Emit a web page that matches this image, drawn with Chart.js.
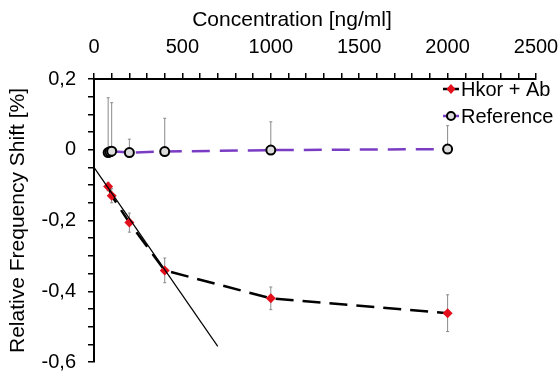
<!DOCTYPE html>
<html>
<head>
<meta charset="utf-8">
<script src="https://cdn.jsdelivr.net/npm/chart.js@4.4.0/dist/chart.umd.min.js"></script>
<style>
  html, body { margin: 0; padding: 0; background: #fff; }
  #wrap { width: 560px; height: 371px; }
</style>
</head>
<body>
<div id="wrap"><canvas id="chart" width="560" height="371"></canvas></div>
<script>
// data
const hkorX = [80, 100, 200, 400, 1000, 2000];
const hkorY = [-0.104, -0.130, -0.206, -0.341, -0.420, -0.462];
const hkorErr = [0.012, 0.02, 0.027, 0.035, 0.032, 0.052];

const refX = [80, 90, 100, 200, 400, 1000, 2000];
const refY = [-0.008, -0.006, -0.004, -0.008, -0.005, -0.001, 0.002];
const refErrUp = [0.155, 0.01, 0.137, 0.038, 0.094, 0.08, 0.066];

// linear fit through the low concentrations
const fitX = [0, 700];
const fitY = [-0.05, -0.556];

const FONT = 'Liberation Sans, Arial, sans-serif';
const PURPLE = '#7b3cc4';
const RED = '#e3101c';

function pts(xs, ys) {
    return xs.map((x, i) => ({ x: x, y: ys[i] }));
}

function fmtComma(v) {
    if (Math.abs(v) < 1e-9) return '0';
    return v.toFixed(1).replace('.', ',');
}

const errorBars = {
    id: 'errorBars',
    beforeDatasetsDraw(chart) {
        const ctx = chart.ctx;
        const xs = chart.scales.x, ys = chart.scales.y;
        ctx.save();
        ctx.strokeStyle = '#8a8a8a';
        ctx.lineWidth = 1;
        const bar = (x, y0, y1, capTop, capBot) => {
            const px = xs.getPixelForValue(x);
            const p0 = ys.getPixelForValue(y0);
            const p1 = ys.getPixelForValue(y1);
            ctx.beginPath();
            ctx.moveTo(px, p0);
            ctx.lineTo(px, p1);
            if (capTop) { ctx.moveTo(px - 1.5, p1); ctx.lineTo(px + 1.5, p1); }
            if (capBot) { ctx.moveTo(px - 1.5, p0); ctx.lineTo(px + 1.5, p0); }
            ctx.stroke();
        };
        hkorX.forEach((x, i) => bar(x, hkorY[i] - hkorErr[i], hkorY[i] + hkorErr[i], true, true));
        refX.forEach((x, i) => bar(x, refY[i], refY[i] + refErrUp[i], true, false));
        ctx.restore();
    }
};

const extras = {
    id: 'extras',
    afterDraw(chart) {
        const ctx = chart.ctx;
        const area = chart.chartArea;
        ctx.save();
        // x axis title (sits a bit left of centre in the original)
        ctx.fillStyle = '#000';
        ctx.font = '21px ' + FONT;
        ctx.textAlign = 'center';
        ctx.textBaseline = 'middle';
        ctx.fillText('Concentration [ng/ml]', 292, 20);

        // legend
        const lx = area.right - 93;
        const entries = [
            { label: 'Hkor + Ab', line: '#000', y: area.top + 10, draw: (x, y) => {
                ctx.fillStyle = RED;
                ctx.beginPath();
                ctx.moveTo(x, y - 5); ctx.lineTo(x + 4.5, y); ctx.lineTo(x, y + 5); ctx.lineTo(x - 4.5, y);
                ctx.closePath(); ctx.fill();
            } },
            { label: 'Reference', line: PURPLE, y: area.top + 37, draw: (x, y) => {
                ctx.fillStyle = '#ddd';
                ctx.strokeStyle = '#000';
                ctx.lineWidth = 2;
                ctx.beginPath(); ctx.arc(x, y, 4, 0, Math.PI * 2); ctx.fill(); ctx.stroke();
            } }
        ];
        entries.forEach(e => {
            ctx.strokeStyle = e.line;
            ctx.lineWidth = 2.5;
            ctx.beginPath();
            ctx.moveTo(lx, e.y); ctx.lineTo(lx + 16, e.y);
            ctx.stroke();
            e.draw(lx + 8, e.y);
            ctx.fillStyle = '#000';
            ctx.font = '20px ' + FONT;
            ctx.textAlign = 'left';
            ctx.textBaseline = 'middle';
            ctx.fillText(e.label, lx + 18, e.y + 1);
        });
        ctx.restore();
    }
};

new Chart(document.getElementById('chart'), {
    type: 'scatter',
    data: {
        datasets: [
            {
                label: 'Hkor + Ab',
                data: pts(hkorX, hkorY),
                showLine: true,
                borderColor: '#000',
                borderWidth: 2.5,
                borderDash: [18, 9],
                pointStyle: 'rectRot',
                pointRadius: 5,
                pointBackgroundColor: RED,
                pointBorderColor: RED,
                pointBorderWidth: 0,
                order: 1
            },
            {
                label: 'Reference',
                data: pts(refX, refY),
                showLine: true,
                borderColor: PURPLE,
                borderWidth: 2.5,
                borderDash: [18, 10],
                pointStyle: 'circle',
                pointRadius: 4.5,
                pointBackgroundColor: '#ddd',
                pointBorderColor: '#000',
                pointBorderWidth: 2,
                order: 2
            },
            {
                label: 'fit',
                data: pts(fitX, fitY),
                showLine: true,
                borderColor: '#000',
                borderWidth: 1.2,
                pointRadius: 0,
                order: 0
            }
        ]
    },
    options: {
        responsive: false,
        animation: false,
        layout: { padding: 0 },
        plugins: {
            legend: { display: false },
            tooltip: { enabled: false }
        },
        scales: {
            x: {
                type: 'linear',
                position: 'top',
                min: 0,
                max: 2500,
                afterFit: s => { s.height = 79; s.paddingRight = 24; s.paddingLeft = 0; },
                border: { display: true, color: '#000', width: 2 },
                grid: { drawOnChartArea: false, drawTicks: true, tickLength: 6, color: '#000', lineWidth: 1.5 },
                ticks: {
                    stepSize: 100,
                    autoSkip: false,
                    maxRotation: 0,
                    padding: 14,
                    color: '#000',
                    font: { family: FONT, size: 20 },
                    callback: v => (v % 500 === 0 ? String(v) : '')
                }
            },
            y: {
                type: 'linear',
                min: -0.6,
                max: 0.2,
                afterFit: s => { s.width = 94; s.paddingBottom = 9; s.paddingTop = 0; },
                border: { display: true, color: '#000', width: 2 },
                grid: { drawOnChartArea: false, drawTicks: true, tickLength: 6, color: '#000', lineWidth: 1.5 },
                ticks: {
                    stepSize: 0.05,
                    autoSkip: false,
                    padding: 12,
                    color: '#000',
                    font: { family: FONT, size: 20 },
                    callback: v => {
                        const k = v * 5;
                        return Math.abs(Math.round(k) - k) < 1e-6 ? fmtComma(v) : '';
                    }
                },
                title: {
                    display: true,
                    text: 'Relative Frequency Shift [%]',
                    color: '#000',
                    font: { family: FONT, size: 21 },
                    padding: { top: 6, bottom: 0 }
                }
            }
        }
    },
    plugins: [errorBars, extras]
});
</script>
</body>
</html>
